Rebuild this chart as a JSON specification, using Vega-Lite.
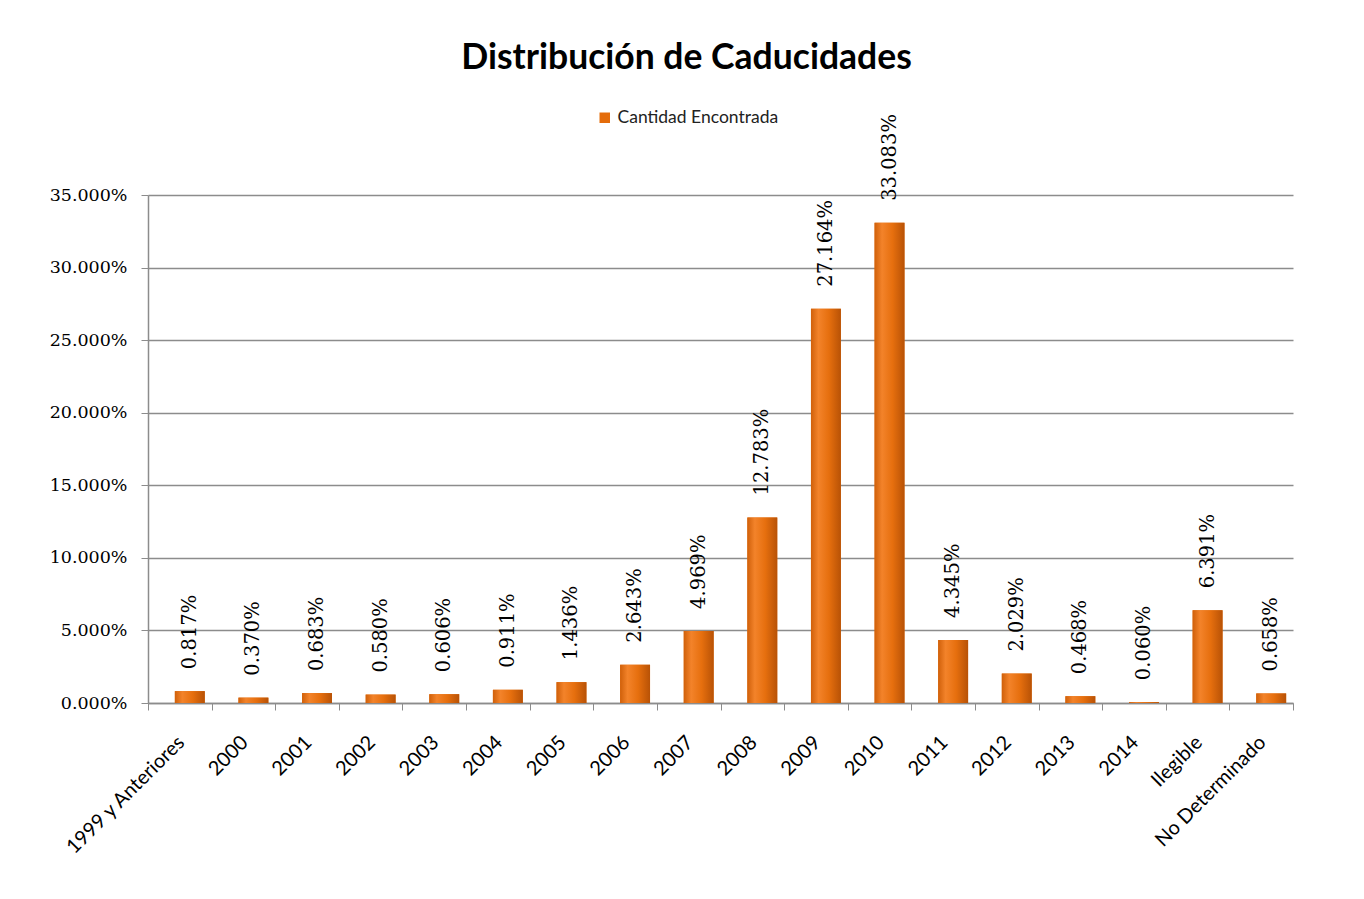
{
  "$schema": "https://vega.github.io/schema/vega-lite/v6.json",
  "autosize": {"type": "none"},
  "width": 1145,
  "height": 508,
  "padding": {"left": 148, "top": 195, "right": 71, "bottom": 196},
  "background": "white",
  "title": {
    "text": "Distribución de Caducidades",
    "font": "Lato",
    "fontSize": 35.5,
    "fontWeight": "bold",
    "color": "#000000",
    "anchor": "middle",
    "frame": "group",
    "dx": -34,
    "offset": 33
  },
  "data": {
    "values": [
      {"categoria": "1999 y Anteriores", "valor": 0.00817, "serie": "Cantidad Encontrada"},
      {"categoria": "2000", "valor": 0.00370, "serie": "Cantidad Encontrada"},
      {"categoria": "2001", "valor": 0.00683, "serie": "Cantidad Encontrada"},
      {"categoria": "2002", "valor": 0.00580, "serie": "Cantidad Encontrada"},
      {"categoria": "2003", "valor": 0.00606, "serie": "Cantidad Encontrada"},
      {"categoria": "2004", "valor": 0.00911, "serie": "Cantidad Encontrada"},
      {"categoria": "2005", "valor": 0.01436, "serie": "Cantidad Encontrada"},
      {"categoria": "2006", "valor": 0.02643, "serie": "Cantidad Encontrada"},
      {"categoria": "2007", "valor": 0.04969, "serie": "Cantidad Encontrada"},
      {"categoria": "2008", "valor": 0.12783, "serie": "Cantidad Encontrada"},
      {"categoria": "2009", "valor": 0.27164, "serie": "Cantidad Encontrada"},
      {"categoria": "2010", "valor": 0.33083, "serie": "Cantidad Encontrada"},
      {"categoria": "2011", "valor": 0.04345, "serie": "Cantidad Encontrada"},
      {"categoria": "2012", "valor": 0.02029, "serie": "Cantidad Encontrada"},
      {"categoria": "2013", "valor": 0.00468, "serie": "Cantidad Encontrada"},
      {"categoria": "2014", "valor": 0.00060, "serie": "Cantidad Encontrada"},
      {"categoria": "Ilegible", "valor": 0.06391, "serie": "Cantidad Encontrada"},
      {"categoria": "No Determinado", "valor": 0.00658, "serie": "Cantidad Encontrada"}
    ]
  },
  "encoding": {
    "x": {
      "field": "categoria",
      "type": "nominal",
      "sort": null,
      "scale": {"paddingInner": 0, "paddingOuter": 0},
      "axis": {
        "title": null,
        "labelAngle": -45,
        "labelAlign": "right",
        "labelBaseline": "top",
        "labelFont": "Lato",
        "labelFontSize": 20,
        "labelColor": "#000000",
        "labelPadding": 22,
        "labelOffset": -6,
        "tickBand": "extent",
        "tickColor": "#8c8c8c",
        "tickSize": 7,
        "domainColor": "#8c8c8c",
        "domainWidth": 1.5,
        "grid": false
      }
    },
    "y": {
      "field": "valor",
      "type": "quantitative",
      "scale": {"domain": [0, 0.35], "nice": false},
      "axis": {
        "title": null,
        "format": ".3%",
        "values": [0, 0.05, 0.1, 0.15, 0.2, 0.25, 0.3, 0.35],
        "labelFont": "DejaVu Serif",
        "labelFontSize": 17.5,
        "labelColor": "#000000",
        "labelPadding": 14,
        "tickColor": "#8c8c8c",
        "tickSize": 7,
        "domainColor": "#8c8c8c",
        "domainWidth": 1.5,
        "gridColor": "#8c8c8c",
        "gridWidth": 1.5
      }
    }
  },
  "layer": [
    {
      "mark": {"type": "bar", "width": {"band": 0.47}, "xOffset": 10},
      "encoding": {
        "color": {
          "field": "serie",
          "type": "nominal",
          "scale": {"range": ["#E46C0A"]},
          "legend": {
            "title": null,
            "orient": "none",
            "legendX": 448,
            "legendY": -86,
            "symbolType": "square",
            "symbolSize": 110,
            "labelFont": "Lato",
            "labelFontSize": 17.5,
            "labelLimit": 400,
            "labelColor": "#222222"
          }
        }
      }
    },
    {
      "mark": {
        "type": "bar",
        "width": {"band": 0.47},
        "xOffset": 10,
        "fill": {
          "gradient": "linear",
          "x1": 0, "y1": 0, "x2": 1, "y2": 0,
          "stops": [
            {"offset": 0, "color": "#D0600A"},
            {"offset": 0.25, "color": "#F3832A"},
            {"offset": 0.6, "color": "#E66F0E"},
            {"offset": 1, "color": "#B85206"}
          ]
        }
      }
    },
    {
      "mark": {
        "type": "text",
        "angle": 270,
        "align": "left",
        "baseline": "middle",
        "dx": 22,
        "xOffset": 10,
        "font": "DejaVu Serif",
        "fontSize": 19.5,
        "color": "#000000"
      },
      "encoding": {
        "text": {"field": "valor", "type": "quantitative", "format": ".3%"}
      }
    }
  ],
  "config": {
    "view": {"stroke": null}
  }
}
